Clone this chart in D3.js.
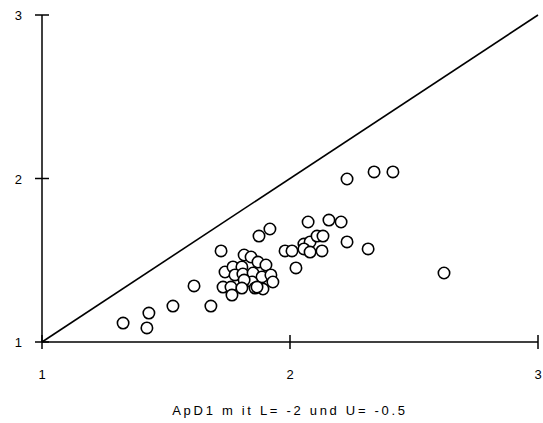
<!DOCTYPE html>
<html><head><meta charset="utf-8">
<script src="https://cdn.jsdelivr.net/npm/d3@7"></script>
<style>body{margin:0;background:#fff}svg{display:block}text{font-family:"Liberation Sans",Arial,sans-serif;fill:#000}</style>
</head><body><svg id="c" width="543" height="423"></svg>
<script>
const xVals = [1.327,1.423,1.431,1.528,1.613,1.681,1.722,1.875,1.919,2.073,2.157,2.206,2.230,2.315,2.230,2.339,2.415,2.621,1.980,2.008,2.056,2.081,2.109,2.133,2.056,2.081,2.129,2.024,1.815,1.843,1.871,1.903,1.738,1.770,1.806,1.778,1.810,1.851,1.887,1.923,1.931,1.847,1.815,1.730,1.762,1.806,1.859,1.891,1.766,1.867];
const yVals = [1.116,1.086,1.177,1.220,1.343,1.220,1.557,1.648,1.691,1.734,1.746,1.734,1.612,1.569,1.997,2.040,2.040,1.422,1.557,1.557,1.599,1.612,1.648,1.648,1.569,1.550,1.557,1.453,1.532,1.520,1.489,1.471,1.428,1.459,1.459,1.410,1.416,1.422,1.398,1.410,1.367,1.367,1.379,1.336,1.336,1.330,1.330,1.324,1.287,1.336];
const xTicks = [1,2,3];
const yTicks = [1,2,3];
const diag = [[1,1],[3,3]];
const xTitle = "ApD1 m it L= -2 und U= -0.5";

const svg = d3.select("#c");
const x = d3.scaleLinear().domain([1,3]).range([42,538]);
const y = d3.scaleLinear().domain([1,3]).range([342,15]);

// axes
svg.append("line").attr("x1",x(1)).attr("x2",x(3)).attr("y1",y(1)).attr("y2",y(1)).attr("stroke","#000").attr("stroke-width",1.5);
svg.append("line").attr("x1",x(1)).attr("x2",x(1)).attr("y1",y(1)).attr("y2",y(3)).attr("stroke","#000").attr("stroke-width",1.5);
svg.selectAll(".xt").data(xTicks).join("line").attr("x1",d=>x(d)).attr("x2",d=>x(d)).attr("y1",y(1)-7).attr("y2",y(1)+7).attr("stroke","#000").attr("stroke-width",1.5);
svg.selectAll(".yt").data(yTicks).join("line").attr("y1",d=>y(d)).attr("y2",d=>y(d)).attr("x1",x(1)-7).attr("x2",x(1)+7).attr("stroke","#000").attr("stroke-width",1.5);
svg.selectAll(".xl").data(xTicks).join("text").attr("x",d=>x(d)).attr("y",y(1)+37).attr("text-anchor","middle").attr("font-size",13).text(d=>d);
svg.selectAll(".yl").data(yTicks).join("text").attr("x",22).attr("y",d=>y(d)+5).attr("text-anchor","end").attr("font-size",13).text(d=>d);
svg.append("text").attr("x",290).attr("y",415).attr("text-anchor","middle").attr("font-size",13).attr("letter-spacing","2.7px").text(xTitle);

// diagonal
svg.append("path").attr("d",d3.line().x(d=>x(d[0])).y(d=>y(d[1]))(diag)).attr("stroke","#000").attr("stroke-width",1.6).attr("fill","none");

// points
svg.selectAll(".p").data(xVals.map((v,i)=>[v,yVals[i]])).join("circle")
  .attr("cx",d=>x(d[0])).attr("cy",d=>y(d[1])).attr("r",5.7)
  .attr("fill","#fff").attr("stroke","#000").attr("stroke-width",1.6);
</script></body></html>
